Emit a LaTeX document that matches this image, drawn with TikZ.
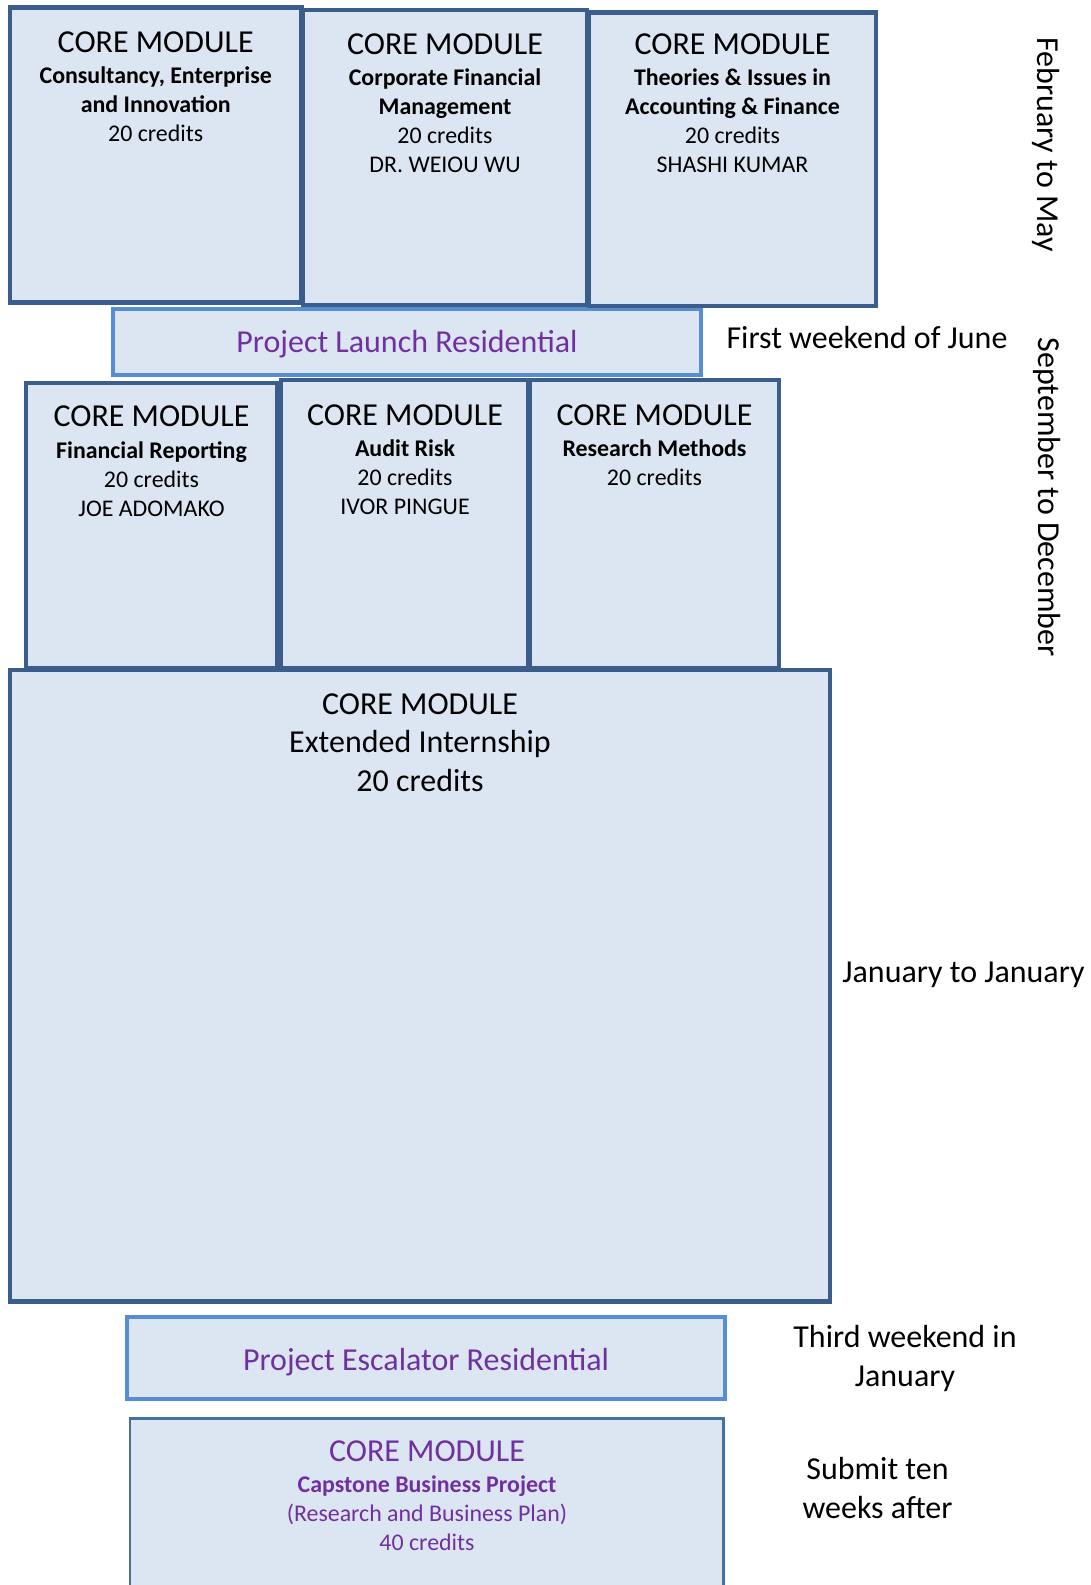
\documentclass[tikz,border=0pt]{standalone}
\usepackage{fontspec}
\setmainfont{Carlito}

\definecolor{boxfill}{HTML}{DCE6F2}
\definecolor{darkline}{HTML}{3A5D8B}
\definecolor{lightline}{HTML}{558ED5}
\definecolor{capline}{HTML}{41719C}
\definecolor{resipurple}{HTML}{7030A0}

\begin{document}
\begin{tikzpicture}[x=0.02cm, y=-0.02cm,
  core/.style={draw=darkline, fill=boxfill, line width=2.7pt},
  resi/.style={draw=lightline, fill=boxfill, line width=2.2pt},
  capbox/.style={draw=capline, fill=boxfill, line width=1.7pt},
  boxtext/.style={anchor=north, inner sep=0pt, align=center, font=\fontsize{13.6}{16.5}\selectfont},
  bigtext/.style={inner sep=0pt, align=center, font=\fontsize{18.2}{22}\selectfont}]

\useasboundingbox (0,0) rectangle (1090,1585);

% first block, February to May
\draw[resi] (113,309) rectangle (701,375);
\draw[core] (10,7.5) rectangle (301.5,302.5);
\draw[core] (303,10) rectangle (587,305);
\draw[core] (589,12.5) rectangle (876,306);

\node[boxtext] (consult) at (155.7,31.3) {{\fontsize{18.2}{22}\selectfont CORE MODULE}\\[1.4pt]
  \textbf{Consultancy, Enterprise}\\\textbf{and Innovation}\\20 credits};
\node[boxtext] (corpfin) at (445,32.9) {{\fontsize{18.2}{22}\selectfont CORE MODULE}\\[1.4pt]
  \textbf{Corporate Financial}\\\textbf{Management}\\20 credits\\DR. WEIOU WU};
\node[boxtext] (theories) at (732.5,32.9) {{\fontsize{18.2}{22}\selectfont CORE MODULE}\\[1.4pt]
  \textbf{Theories \& Issues in}\\\textbf{Accounting \& Finance}\\20 credits\\SHASHI KUMAR};

\node[bigtext, anchor=base, text=resipurple] (launch) at (407,352.5) {Project Launch Residential};

% second block, September to December
\draw[core] (26,383) rectangle (277,668);
\draw[core] (281,380) rectangle (528,668);
\draw[core] (530,380) rectangle (779,668);

\node[boxtext] (finrep) at (151.5,405.5) {{\fontsize{18.2}{22}\selectfont CORE MODULE}\\[1.6pt]
  \textbf{Financial Reporting}\\20 credits\\JOE ADOMAKO};
\node[boxtext] (audit) at (405,404) {{\fontsize{18.2}{22}\selectfont CORE MODULE}\\[1.4pt]
  \textbf{Audit Risk}\\20 credits\\IVOR PINGUE};
\node[boxtext] (resmeth) at (654.5,404) {{\fontsize{18.2}{22}\selectfont CORE MODULE}\\[1.4pt]
  \textbf{Research Methods}\\20 credits};

% internship
\draw[core] (10,670) rectangle (830,1301.5);
\node[bigtext, anchor=north] (intern) at (420,693) {CORE MODULE\\Extended Internship\\20 credits};

% escalator and capstone
\draw[resi] (127,1317) rectangle (725,1399);
\node[bigtext, anchor=base, text=resipurple] (escal) at (426,1370) {Project Escalator Residential};

\draw[capbox] (130,1418) rectangle (723.5,1600);
\node[boxtext, text=resipurple] (capstone) at (427,1440) {{\fontsize{18.2}{22}\selectfont CORE MODULE}\\[1.4pt]
  \textbf{Capstone Business Project}\\(Research and Business Plan)\\40 credits};

% dates
\node[bigtext, anchor=base, rotate=-90] (febmay) at (1037,144.5) {February to May};
\node[bigtext, anchor=base, rotate=-90] (sepdec) at (1038,497) {September to December};
\node[bigtext, anchor=base] (june) at (867,348) {First weekend of June};
\node[bigtext, anchor=base] (janjan) at (963.5,982) {January to January};
\node[bigtext, anchor=north] (thirdjan) at (905,1325) {Third weekend in\\January};
\node[bigtext, anchor=north] (submit) at (877.5,1457) {Submit ten\\weeks after};

\end{tikzpicture}
\end{document}
